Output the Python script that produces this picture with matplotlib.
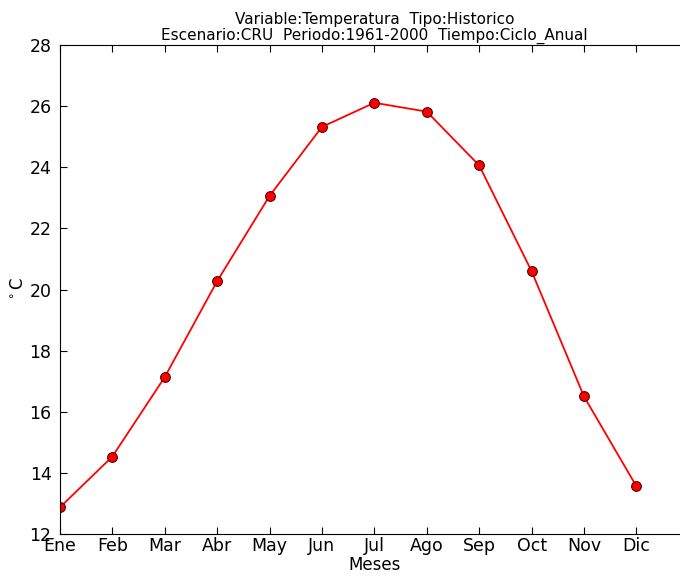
import matplotlib
matplotlib.use('Agg')
import matplotlib.pyplot as plt

# Monthly climatology (CRU 1961-2000)
meses = ['Ene', 'Feb', 'Mar', 'Abr', 'May', 'Jun', 'Jul', 'Ago', 'Sep', 'Oct', 'Nov', 'Dic']
temperatura = [12.87, 14.53, 17.13, 20.27, 23.06, 25.32, 26.11, 25.82, 24.06, 20.6, 16.5, 13.56]

fig = plt.figure(figsize=(6.8, 5.77), dpi=100)
ax = fig.add_axes([0.088, 0.0745, 0.925, 0.8475])

ax.plot(range(len(meses)), temperatura, color='red', linewidth=1.3,
        marker='o', markersize=7, markerfacecolor='red', markeredgecolor='#550000',
        markeredgewidth=0.8)

ax.set_xlim(0, 12)
ax.set_ylim(12, 28)
ax.set_xticks(range(len(meses)))
ax.set_xticklabels(meses)
ax.set_yticks(range(12, 29, 2))
ax.tick_params(direction='in', top=True, right=True, length=5, labelsize=12.5)
ax.tick_params(axis='x', pad=2)
ax.tick_params(axis='y', pad=6)

ax.set_xlabel('Meses', fontsize=12, labelpad=1)
ax.set_ylabel(r'$^\circ$C', fontsize=12, labelpad=2)
ax.set_title('Variable:Temperatura  Tipo:Historico\nEscenario:CRU  Periodo:1961-2000  Tiempo:Ciclo_Anual',
             fontsize=11, linespacing=1.05, pad=4)

fig.savefig('out.png', dpi=100)
